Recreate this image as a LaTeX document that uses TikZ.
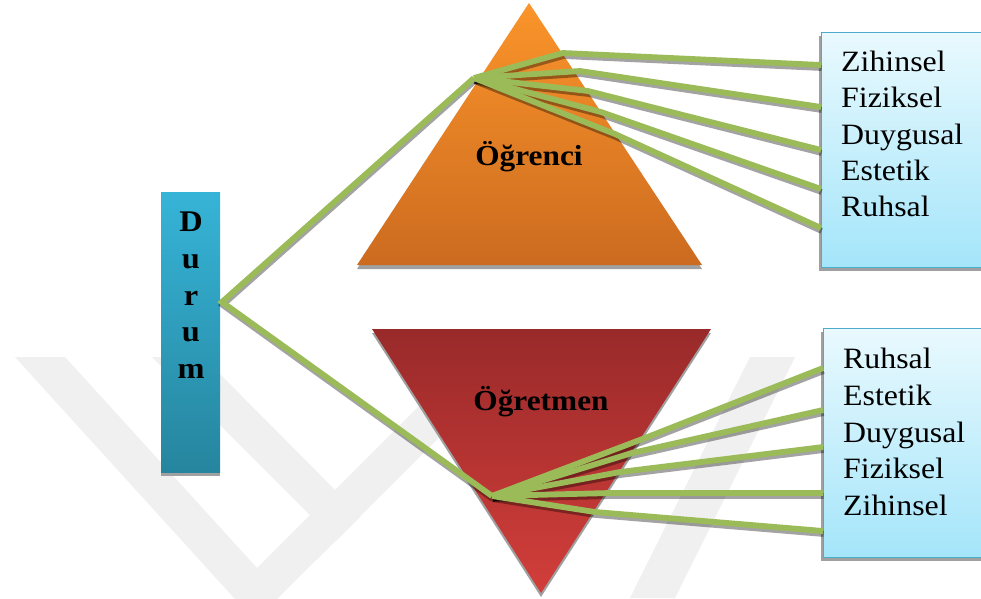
\documentclass[tikz,border=0pt]{standalone}
\usepackage{fontspec}
\setmainfont{Liberation Serif}[FakeStretch=1.08]
\definecolor{linkgreen}{RGB}{155,187,89}
\definecolor{orangetop}{RGB}{250,148,42}
\definecolor{orangebot}{RGB}{204,107,32}
\definecolor{redtop}{RGB}{153,42,42}
\definecolor{redbot}{RGB}{210,62,58}
\definecolor{durumtop}{RGB}{54,180,215}
\definecolor{durumbot}{RGB}{38,133,158}
\definecolor{listtop}{RGB}{233,249,254}
\definecolor{listbot}{RGB}{164,229,250}
\definecolor{listedge}{RGB}{75,172,204}
\definecolor{shadowgray}{RGB}{160,160,160}
\definecolor{markgray}{RGB}{240,240,240}
\begin{document}
\begin{tikzpicture}[x=1pt,y=-1pt,
  conn/.style={draw=linkgreen,line width=5.8pt},
  connshadow/.style={draw=black,opacity=0.36,line width=5.8pt},
  dropshade/.style={fill=shadowgray},
  listbox/.style={draw=listedge,line width=1.2pt,top color=listtop,bottom color=listbot,
    rectangle,inner sep=0pt,anchor=north west},
  listitem/.style={anchor=base west,inner sep=0pt,font=\fontsize{29.5}{34}\selectfont},
  tritext/.style={anchor=base,inner sep=0pt,font=\bfseries\fontsize{29}{34}\selectfont},
  letter/.style={anchor=base,inner sep=0pt,font=\bfseries\fontsize{30}{34}\selectfont}]

\useasboundingbox (0,0) rectangle (981,598);
\fill[white] (0,0) rectangle (981,598);

% faint watermark bands in the background
\fill[markgray] (15,357) -- (65,357) -- (257,568) -- (468,357) -- (520,357) -- (255,621) -- cycle;
\fill[markgray] (152,357) -- (203,357) -- (361,516) -- (336,541) -- cycle;
\fill[markgray] (750,357) -- (795,357) -- (675,598) -- (630,598) -- cycle;

% triangles with their drop shadows
\fill[dropshade,shift={(0,4)}] (529,3) -- (702,265) -- (357,265) -- cycle;
\shade[top color=orangetop,bottom color=orangebot] (529,3) -- (702,265) -- (357,265) -- cycle;
\fill[dropshade,shift={(0,4)}] (372,329) -- (711,329) -- (541,593) -- cycle;
\shade[top color=redtop,bottom color=redbot] (372,329) -- (711,329) -- (541,593) -- cycle;

% Durum column
\fill[dropshade] (161,470) rectangle (220,476);
\node[rectangle,inner sep=0pt,minimum width=59pt,minimum height=280pt,anchor=north west,
  top color=durumtop,bottom color=durumbot] (durum) at (161,192) {};

% list boxes
\fill[dropshade] (819,36) rectangle (995,271);
\node[listbox,minimum width=174pt,minimum height=235pt] (topbox) at (821,32) {};
\fill[dropshade] (821,332) rectangle (995,561);
\node[listbox,minimum width=172pt,minimum height=229pt] (botbox) at (823,328) {};

% connector points
\coordinate (dv) at (222,302);
\coordinate (thub) at (474,78);
\coordinate (bhub) at (492,496);
\coordinate (tk1) at (563,53);  \coordinate (te1) at (821,65);
\coordinate (tk2) at (580,71);  \coordinate (te2) at (821,107);
\coordinate (tk3) at (588,91);  \coordinate (te3) at (821,150);
\coordinate (tk4) at (601,112); \coordinate (te4) at (821,189);
\coordinate (tk5) at (615,134); \coordinate (te5) at (821,228);
\coordinate (bk1) at (645,438); \coordinate (be1) at (823,368);
\coordinate (bk2) at (632,453); \coordinate (be2) at (823,410);
\coordinate (bk3) at (620,472); \coordinate (be3) at (823,447);
\coordinate (bk4) at (610,493); \coordinate (be4) at (823,493);
\coordinate (bk5) at (595,512); \coordinate (be5) at (823,531);

% connector shadows
\draw[connshadow] ([shift={(0.6,3)}]thub) -- ([shift={(0.6,3)}]dv) -- ([shift={(0.6,3)}]bhub);
\foreach \k in {1,...,5}{
  \draw[connshadow] ([shift={(0.6,3)}]thub) -- ([shift={(0.6,3)}]tk\k) -- ([shift={(0.6,3)}]te\k);
  \draw[connshadow] ([shift={(0.6,3)}]bhub) -- ([shift={(0.6,3)}]bk\k) -- ([shift={(0.6,3)}]be\k);
}
% connectors
\draw[conn] (thub) -- (dv) -- (bhub);
\foreach \k in {1,...,5}{
  \draw[conn] (thub) -- (tk\k) -- (te\k);
  \draw[conn] (bhub) -- (bk\k) -- (be\k);
}

% labels
\node[tritext] (ogrenci) at (529,165) {Öğrenci};
\node[tritext] (ogretmen) at (541,410) {Öğretmen};

\node[letter] (d1) at (191,231) {D};
\node[letter] (d2) at (191,268) {u};
\node[letter] (d3) at (191,305) {r};
\node[letter] (d4) at (191,341) {u};
\node[letter] (d5) at (191,378) {m};

\node[listitem] (t1) at (841,71)  {Zihinsel};
\node[listitem] (t2) at (841,107) {Fiziksel};
\node[listitem] (t3) at (841,144) {Duygusal};
\node[listitem] (t4) at (841,180) {Estetik};
\node[listitem] (t5) at (841,216) {Ruhsal};

\node[listitem] (b1) at (843,368) {Ruhsal};
\node[listitem] (b2) at (843,405) {Estetik};
\node[listitem] (b3) at (843,442) {Duygusal};
\node[listitem] (b4) at (843,478) {Fiziksel};
\node[listitem] (b5) at (843,515) {Zihinsel};
\end{tikzpicture}
\end{document}
